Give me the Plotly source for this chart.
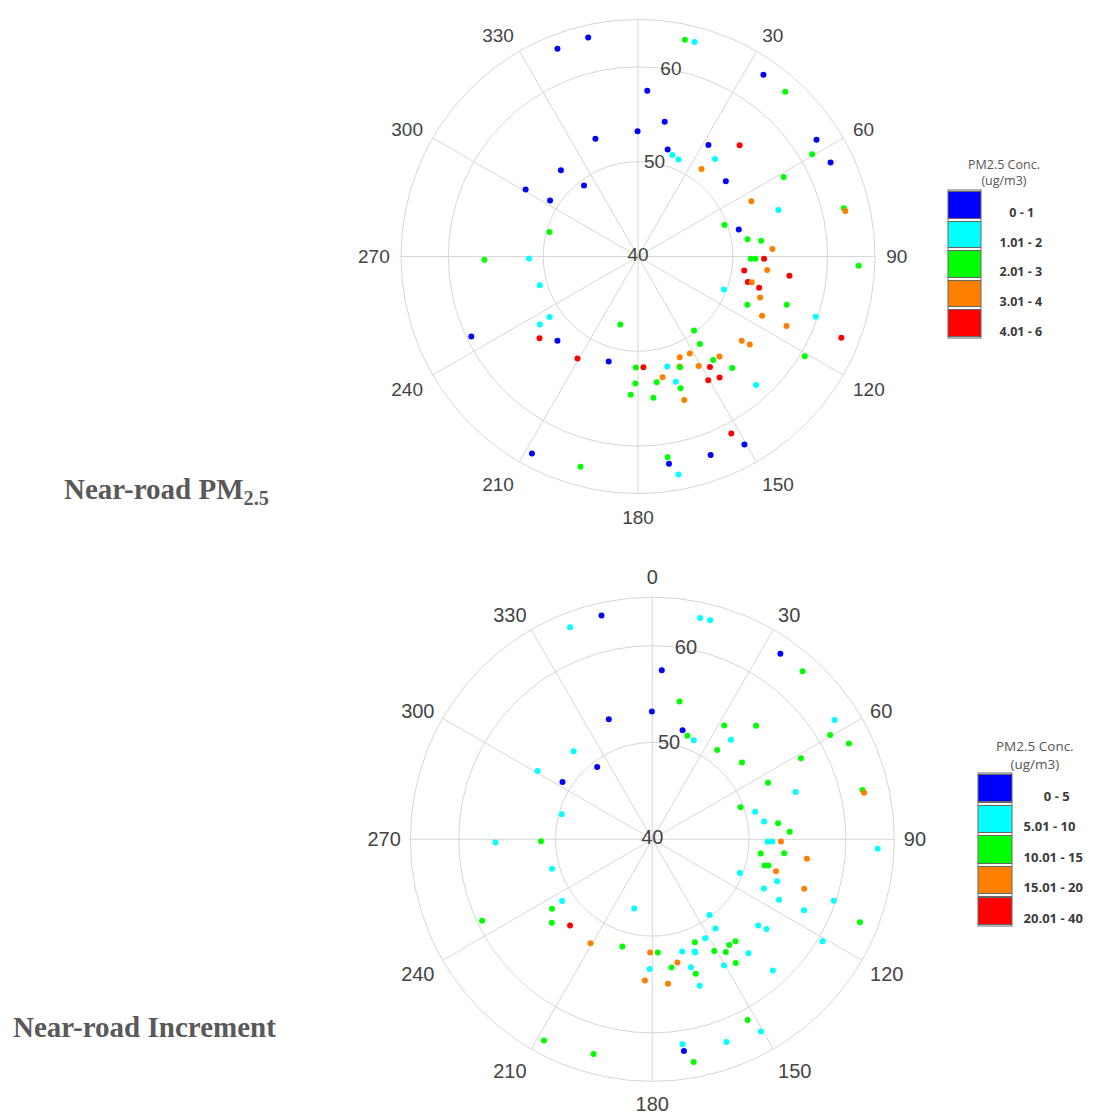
import plotly.graph_objects as go

# ---- data: wind direction (deg, clockwise from north) and radial value of each observation
theta = [338.8, 347.2, 12.2, 14.8, 34.6, 41.8, 3.2, 11.2, 359.8, 340.1,
         15.5, 18.7, 22.7, 32.3, 42.4, 38.3, 36.0, 49.4, 56.8, 59.6,
         64.0, 61.4, 64.0, 71.7, 76.8, 77.6, 318.2, 322.7, 300.8, 302.5,
         285.4, 268.8, 269.0, 70.0, 75.0, 81.0, 82.7, 86.8, 91.2, 91.1,
         91.0, 92.4, 97.5, 96.0, 97.2, 103.1, 102.7, 104.5, 111.1, 108.6,
         113.8, 108.0, 115.5, 108.7, 115.1, 142.9, 111.8, 120.9, 129.1, 128.2,
         144.7, 137.4, 152.2, 150.5, 159.9, 171.6, 171.5, 169.5, 208.3, 195.3,
         253.7, 235.6, 235.3, 230.3, 223.7, 244.4, 210.7, 195.6, 194.6, 181.1,
         177.2, 165.1, 157.5, 159.3, 159.2, 151.9, 151.0, 144.0, 140.8, 146.9,
         139.8, 150.4, 146.0, 168.5, 171.5, 163.2, 162.1, 181.2, 183.0, 173.8,
         162.1]
radius = [63.5, 63.7, 63.4, 63.4, 63.3, 63.3, 57.5, 54.5, 53.2, 53.2,
          51.7, 51.3, 51.1, 53.9, 55.9, 53.1, 51.4, 52.2, 62.5, 61.3,
          62.6, 57.5, 53.3, 55.6, 62.3, 62.4, 52.2, 49.4, 53.8, 51.0,
          49.7, 56.2, 51.5, 49.7, 51.0, 51.7, 53.1, 54.2, 51.9, 52.4,
          53.3, 63.3, 51.3, 53.7, 56.1, 51.9, 52.3, 53.2, 49.7, 53.6,
          52.6, 56.5, 54.5, 59.8, 57.3, 49.8, 63.1, 60.5, 54.1, 55.0,
          51.3, 58.4, 61.1, 62.8, 62.3, 61.4, 62.1, 63.4, 63.6, 63.0,
          50.8, 51.3, 52.6, 53.5, 52.3, 59.5, 52.5, 51.5, 47.4, 51.7,
          51.7, 52.0, 51.5, 52.4, 52.5, 51.6, 53.2, 53.5, 53.6, 53.9,
          55.4, 55.0, 55.4, 53.0, 53.4, 53.8, 54.6, 53.4, 54.6, 55.0,
          55.9]

# concentration class of each observation (0 = lowest bin ... 4 = highest bin)
pm25_class = [0, 0, 2, 1, 0, 2, 0, 0, 0, 0,
              0, 1, 1, 0, 4, 1, 3, 0, 0, 2,
              0, 2, 3, 1, 2, 3, 0, 0, 0, 0,
              2, 2, 1, 2, 0, 2, 2, 3, 2, 2,
              4, 2, 4, 3, 4, 4, 3, 4, 1, 3,
              2, 2, 3, 1, 3, 2, 4, 2, 3, 3,
              2, 1, 4, 0, 0, 2, 0, 1, 0, 2,
              1, 1, 1, 4, 0, 0, 4, 0, 2, 2,
              4, 1, 3, 3, 2, 3, 3, 2, 3, 4,
              2, 4, 4, 3, 2, 1, 2, 2, 2, 2,
              3]
incr_class = [1, 0, 1, 1, 0, 2, 0, 2, 0, 0,
              0, 2, 1, 2, 2, 1, 2, 2, 1, 2,
              2, 2, 2, 1, 2, 3, 1, 0, 1, 0,
              1, 1, 2, 2, 1, 1, 2, 2, 1, 1,
              3, 1, 2, 2, 3, 2, 2, 3, 1, 1,
              1, 3, 1, 1, 1, 1, 2, 1, 1, 1,
              1, 1, 2, 1, 1, 1, 0, 2, 2, 2,
              1, 1, 2, 2, 4, 2, 3, 2, 1, 3,
              2, 1, 2, 1, 1, 1, 2, 2, 2, 2,
              1, 1, 2, 3, 2, 1, 2, 1, 3, 3,
              1]

class_colors = ["#0000FF", "#00FFFF", "#00FF00", "#FF8000", "#FF0000"]
pm25_labels = ["\u00a0\u00a0\u00a00 - 1", "1.01 - 2", "2.01 - 3", "3.01 - 4", "4.01 - 6"]
incr_labels = ["\u00a0\u00a0\u00a0\u00a0\u00a0\u00a00 - 5", "5.01 - 10", "10.01 - 15",
               "15.01 - 20", "20.01 - 40"]
legend_title = "PM2.5 Conc.<br>(ug/m3)"
panel_titles = ["Near-road PM<sub>2.5</sub>", "Near-road Increment"]
angle_ticks = list(range(0, 360, 30))
radial_ticks = [40, 50, 60]
radial_range = [40, 65]

OFF = 8                      # page body margin of the html page
W, H = 1095 - OFF, 1114 - OFF
GRID = "#d6d6d6"
TXT = "#444444"
LABEL_ANGLE = 10             # direction along which the radial tick labels are written
n_cls = len(class_colors)


def px(x):
    return (x - OFF) / W


def py(y):
    return 1 - (y - OFF) / H


def discrete_scale(colors):
    # bottom of the colour bar = highest class, top = lowest class
    cols = colors[::-1]
    n = len(cols)
    white, edge = 0.007, 0.007
    sc = []
    for k, c in enumerate(cols):
        lo, hi = k / n, (k + 1) / n
        sc += [[lo, "#ffffff"], [lo + white, "#ffffff"],
               [lo + white, "#666666"], [lo + white + edge, "#666666"],
               [lo + white + edge, c], [hi - white - edge, c],
               [hi - white - edge, "#666666"], [hi - white, "#666666"],
               [hi - white, "#ffffff"], [hi, "#ffffff"]]
    return sc


def code(classes):
    return [n_cls - 1 - c for c in classes]


fig = go.Figure()
for sub, cls, cax, fs in [("polar", pm25_class, "coloraxis", 19),
                          ("polar2", incr_class, "coloraxis2", 20)]:
    fig.add_trace(go.Scatterpolar(
        r=radius, theta=theta, mode="markers", subplot=sub,
        marker=dict(size=6, color=code(cls), coloraxis=cax),
        showlegend=False, hoverinfo="r+theta"))
    # radial tick labels written along a line slightly clockwise of north
    fig.add_trace(go.Scatterpolar(
        r=radial_ticks, theta=[LABEL_ANGLE] * len(radial_ticks), mode="text",
        text=[str(v) for v in radial_ticks], textposition="middle center",
        textfont=dict(family="Liberation Sans, Arial", size=fs, color=TXT),
        subplot=sub, showlegend=False, hoverinfo="skip"))


def polar_layout(cx, cy, R, hide_zero, fs, tlen):
    ticktext = ["" if (hide_zero and a == 0) else str(a) for a in angle_ticks]
    return dict(
        domain=dict(x=[px(cx - R), px(cx + R)], y=[py(cy + R), py(cy - R)]),
        bgcolor="white",
        angularaxis=dict(rotation=90, direction="clockwise", tickmode="array",
                         tickvals=angle_ticks, ticktext=ticktext,
                         ticks="outside", ticklen=tlen, tickcolor="rgba(0,0,0,0)",
                         showline=True, linecolor=GRID, linewidth=1,
                         gridcolor=GRID, gridwidth=1,
                         tickfont=dict(family="Liberation Sans, Arial", size=fs, color=TXT)),
        radialaxis=dict(range=radial_range, tickmode="array", tickvals=radial_ticks,
                        showline=False, ticks="", showticklabels=False,
                        gridcolor=GRID, gridwidth=1),
    )


def colorbar(x_left, y_top, length, thick, labels, dy, tlen, fs):
    return dict(
        thicknessmode="pixels", thickness=thick, lenmode="pixels", len=length,
        x=px(x_left), xanchor="left", y=py(y_top), yanchor="top",
        xpad=0, ypad=0, outlinewidth=1, outlinecolor="#666666",
        tickmode="array", tickvals=[k - dy for k in range(n_cls)],
        ticktext=labels[::-1], ticks="outside", ticklen=tlen,
        tickcolor="rgba(0,0,0,0)",
        tickfont=dict(family="Open Sans", size=fs, color="#3a3a3a", weight="bold"),
    )


fig.update_layout(
    width=W, height=H, autosize=False,
    margin=dict(l=0, r=0, t=0, b=0),
    paper_bgcolor="white", plot_bgcolor="white",
    polar=polar_layout(638, 256.5, 237, True, 19, 7),
    polar2=polar_layout(652.3, 839.3, 242, False, 20, 5),
    coloraxis=dict(cmin=-0.5, cmax=n_cls - 0.5, colorscale=discrete_scale(class_colors),
                   colorbar=colorbar(948, 190, 148, 33, pm25_labels, 0.27, 16, 12.5)),
    coloraxis2=dict(cmin=-0.5, cmax=n_cls - 0.5, colorscale=discrete_scale(class_colors),
                    colorbar=colorbar(978, 773, 153, 34, incr_labels, 0.25, 9, 13)),
    annotations=[
        dict(text=legend_title, x=px(1004), y=py(172), xref="paper", yref="paper",
             showarrow=False, xanchor="center", yanchor="middle",
             font=dict(family="Open Sans", size=12.5, color="#555555")),
        dict(text=legend_title, x=px(1035), y=py(755), xref="paper", yref="paper",
             showarrow=False, xanchor="center", yanchor="middle",
             font=dict(family="Open Sans", size=13.5, color="#555555")),
        dict(text=panel_titles[0], x=px(62), y=py(491), xref="paper", yref="paper",
             showarrow=False, xanchor="left", yanchor="middle",
             font=dict(family="Liberation Serif, Times New Roman", size=29, color="#595959",
                       weight="bold")),
        dict(text=panel_titles[1], x=px(11), y=py(1027), xref="paper", yref="paper",
             showarrow=False, xanchor="left", yanchor="middle",
             font=dict(family="Liberation Serif, Times New Roman", size=29, color="#595959",
                       weight="bold")),
    ],
)

fig.write_html("out.html")
